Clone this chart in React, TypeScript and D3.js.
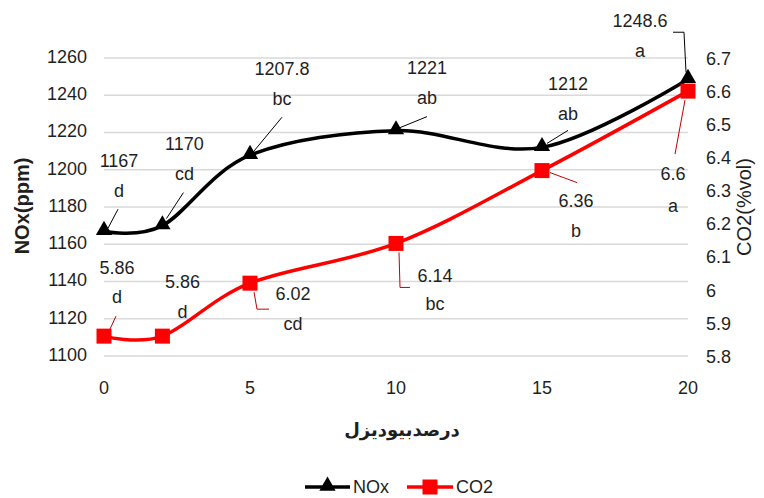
import React from "react";
import * as d3 from "d3";

// biodiesel percentage
const blends = [0, 2, 5, 10, 15, 20];
const noxValues = [1167, 1170, 1207.8, 1221, 1212, 1248.6];
const co2Values = [5.86, 5.86, 6.02, 6.14, 6.36, 6.6];
const noxLetters = ["d", "cd", "bc", "ab", "ab", "a"];
const co2Letters = ["d", "d", "cd", "bc", "b", "a"];

const xTicks = [0, 5, 10, 15, 20];
const leftTicks = [1100, 1120, 1140, 1160, 1180, 1200, 1220, 1240, 1260];
const rightTicks = [5.8, 5.9, 6, 6.1, 6.2, 6.3, 6.4, 6.5, 6.6, 6.7];

// label placement, relative to each point (px): [dx, dy value, dy letter], leader path
const noxLabelPos = [
  [15, -69, -39], [22, -80, -50], [32, -85, -55], [31, -61, -31], [26, -62, -32], [-48, -57, -27],
];
const noxLeaders = [
  [[14, -22], [4, -3]],
  [[21, -33], [4, -7]],
  [[32, -38], [3, -3]],
  [[31, -14], [4, -3]],
  [[26, -17], [5, -4]],
  [[-15, -47], [-4, -47], [-2, -7]],
];
const co2LabelPos = [
  [13, -67, -38], [20, -53, -23], [43, 12, 42], [39, 34, 62], [34, 32, 62], [-15, 84, 116],
];
const co2Leaders = [
  [[12, -20], [6, -7]],
  [],
  [[19, 26], [7, 26], [4, 9]],
  [[14, 44], [4, 44], [3, 9]],
  [[35, 12], [8, 2]],
  [[-13, 63], [-3, 9]],
];

const W = 764;
const H = 498;
const font = "'Liberation Sans', Arial, sans-serif";
const textColor = "#1f1f1f";

export default function App() {
  const x = d3.scaleLinear().domain([0, 20]).range([104, 688]);
  const yL = d3.scaleLinear().domain([1100, 1260]).range([356, 58]);
  const yR = d3.scaleLinear().domain([5.8, 6.7]).range([356, 58]);

  const curve = d3.curveCardinal.tension(0);
  const noxLine = d3.line<number>().x((_, i) => x(blends[i])).y(d => yL(d)).curve(curve);
  const co2Line = d3.line<number>().x((_, i) => x(blends[i])).y(d => yR(d)).curve(curve);
  const tri = d3.symbol().type(d3.symbolTriangle).size(115)();
  const leader = d3.line();

  return (
    <svg width={W} height={H} style={{ position: "absolute", left: 0, top: 0, background: "#fff" }}
      fontFamily={font}>
      {/* gridlines */}
      {leftTicks.map(t => (
        <line key={t} x1={x(0)} x2={x(20)} y1={yL(t)} y2={yL(t)} stroke="#d9d9d9" strokeWidth={1.5} />
      ))}
      {/* left axis labels */}
      {leftTicks.map(t => (
        <text key={t} x={87} y={yL(t)} textAnchor="end" dominantBaseline="middle" fontSize={18} fill={textColor}>{t}</text>
      ))}
      {/* right axis labels */}
      {rightTicks.map(t => (
        <text key={t} x={706} y={yR(t) + 2} textAnchor="start" dominantBaseline="middle" fontSize={18} fill={textColor}>{t}</text>
      ))}
      {/* x axis labels */}
      {xTicks.map(t => (
        <text key={t} x={x(t)} y={389} textAnchor="middle" dominantBaseline="middle" fontSize={18} fill={textColor}>{t}</text>
      ))}
      {/* axis titles */}
      <text transform="translate(24,206) rotate(-90)" textAnchor="middle" dominantBaseline="middle"
        fontSize={20} fontWeight="bold" fill={textColor}>NOx(ppm)</text>
      <text transform="translate(746,207) rotate(-90)" textAnchor="middle" dominantBaseline="middle"
        fontSize={20} fill={textColor}>CO2(%vol)</text>
      <text x={402} y={431} textAnchor="middle" dominantBaseline="middle" fontSize={18} fontWeight="bold"
        fontFamily="'DejaVu Sans', sans-serif" fill={textColor} direction="rtl">درصدبیودیزل</text>

      {/* series lines */}
      <path d={noxLine(noxValues) ?? ""} fill="none" stroke="#000" strokeWidth={3.5} />
      <path d={co2Line(co2Values) ?? ""} fill="none" stroke="#ff0000" strokeWidth={3.5} />

      {/* leader lines */}
      {noxLeaders.map((pts, i) => pts.length > 0 && (
        <path key={"nl" + i} transform={`translate(${x(blends[i])},${yL(noxValues[i])})`}
          d={leader(pts as [number, number][]) ?? ""} fill="none" stroke="#000" strokeWidth={1} />
      ))}
      {co2Leaders.map((pts, i) => pts.length > 0 && (
        <path key={"cl" + i} transform={`translate(${x(blends[i])},${yR(co2Values[i])})`}
          d={leader(pts as [number, number][]) ?? ""} fill="none" stroke="#c00000" strokeWidth={1} />
      ))}

      {/* markers */}
      {noxValues.map((v, i) => (
        <path key={"nm" + i} d={tri ?? ""} transform={`translate(${x(blends[i])},${yL(v) - 1})`} fill="#000" />
      ))}
      {co2Values.map((v, i) => (
        <rect key={"cm" + i} x={x(blends[i]) - 7.5} y={yR(v) - 7.5} width={15} height={15} fill="#ff0000" />
      ))}

      {/* data labels */}
      {noxValues.map((v, i) => {
        const [dx, dy1, dy2] = noxLabelPos[i];
        const px = x(blends[i]);
        const py = yL(v);
        return (
          <g key={"nt" + i} fontSize={18} fill={textColor} textAnchor="middle" dominantBaseline="middle">
            <text x={px + dx} y={py + dy1}>{v}</text>
            <text x={px + dx} y={py + dy2}>{noxLetters[i]}</text>
          </g>
        );
      })}
      {co2Values.map((v, i) => {
        const [dx, dy1, dy2] = co2LabelPos[i];
        const px = x(blends[i]);
        const py = yR(v);
        return (
          <g key={"ct" + i} fontSize={18} fill={textColor} textAnchor="middle" dominantBaseline="middle">
            <text x={px + dx} y={py + dy1}>{v}</text>
            <text x={px + dx} y={py + dy2}>{co2Letters[i]}</text>
          </g>
        );
      })}

      {/* legend */}
      <g transform="translate(305,487)">
        <line x1={0} x2={45} stroke="#000" strokeWidth={3.5} />
        <path d={tri ?? ""} transform="translate(22.5,-1)" fill="#000" />
        <text x={48} y={1} dominantBaseline="middle" fontSize={18} fill={textColor}>NOx</text>
      </g>
      <g transform="translate(407,487)">
        <line x1={0} x2={46} stroke="#ff0000" strokeWidth={3.5} />
        <rect x={15.5} y={-7.5} width={15} height={15} fill="#ff0000" />
        <text x={49} y={1} dominantBaseline="middle" fontSize={18} fill={textColor}>CO2</text>
      </g>
    </svg>
  );
}
